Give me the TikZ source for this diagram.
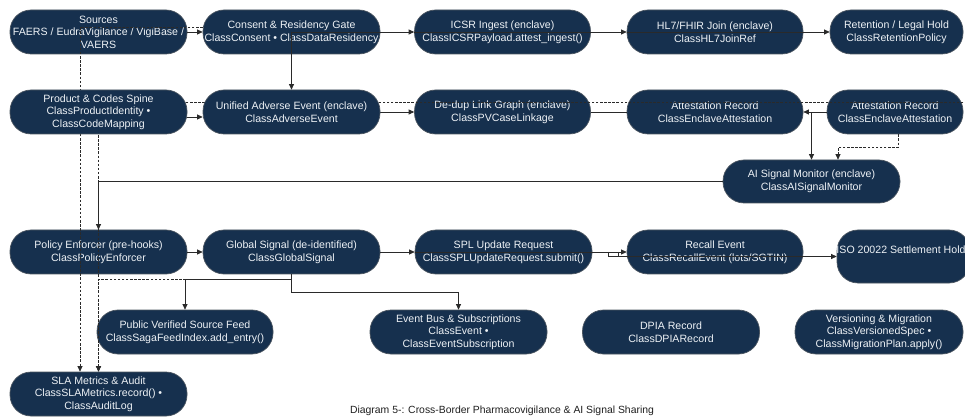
\documentclass[tikz,border=0pt]{standalone}
\usepackage{fontspec}
\setmainfont{Liberation Sans}
\usetikzlibrary{arrows.meta}
\definecolor{pillfill}{HTML}{16304E}
\definecolor{pillline}{HTML}{4B5560}
\definecolor{pilltext}{HTML}{EEF2F6}
\definecolor{wire}{HTML}{2A2A2A}
\pgfdeclarelayer{front}
\pgfsetlayers{main,front}

\begin{document}
\begin{tikzpicture}[x=1pt,y=-1pt,
  pill/.style={draw=pillline, line width=0.7pt, fill=pillfill, text=pilltext,
    rounded corners=21pt, minimum height=44pt, minimum width=177pt,
    inner sep=0pt, align=center, font=\fontsize{10.6}{12.6}\selectfont},
  link/.style={draw=wire, line width=0.75pt, -{Triangle[length=5.5pt,width=5pt]}},
  plain/.style={draw=wire, line width=0.75pt},
  dashlink/.style={link, dash pattern=on 2.5pt off 1.6pt},
]
\fill[white] (0,0) rectangle (965,419);
\useasboundingbox (0,0) rectangle (965,419);

% row 1
\node[pill] (src) at (98.5,32) {Sources\\FAERS / EudraVigilance / VigiBase /\\VAERS};
\node[pill] (consent) at (291.5,32) {Consent \& Residency Gate\\ClassConsent • ClassDataResidency};
\node[pill, minimum width=176pt] (icsr) at (502.5,32) {ICSR Ingest (enclave)\\ClassICSRPayload.attest\_ingest()};
\node[pill, minimum width=176pt] (hl7) at (715,32) {HL7/FHIR Join (enclave)\\ClassHL7JoinRef};
\node[pill, minimum width=133pt] (ret) at (896.5,32) {Retention / Legal Hold\\ClassRetentionPolicy};

% row 2 (spine, unified event and audit sink sit above the wiring)
\begin{pgfonlayer}{front}
\node[pill] (prod) at (98.5,112) {Product \& Codes Spine\\ClassProductIdentity •\\ClassCodeMapping};
\node[pill] (unified) at (291.5,112) {Unified Adverse Event (enclave)\\ClassAdverseEvent};
\node[pill] (sla) at (98.5,394) {SLA Metrics \& Audit\\ClassSLAMetrics.record() •\\ClassAuditLog};
\end{pgfonlayer}
\node[pill, minimum width=176pt] (dedup) at (502.5,112) {De-dup Link Graph (enclave)\\ClassPVCaseLinkage};
\node[pill, minimum width=176pt] (att1) at (715,112) {Attestation Record\\ClassEnclaveAttestation};
\node[pill, minimum width=136pt] (att2) at (895,112) {Attestation Record\\ClassEnclaveAttestation};

\node[pill, minimum height=43pt] (ai) at (811.5,181.5) {AI Signal Monitor (enclave)\\ClassAISignalMonitor};

% row 3
\node[pill] (policy) at (98.5,252) {Policy Enforcer (pre-hooks)\\ClassPolicyEnforcer};
\node[pill] (global) at (291.5,252) {Global Signal (de-identified)\\ClassGlobalSignal};
\node[pill] (spl) at (503.5,252) {SPL Update Request\\ClassSPLUpdateRequest.submit()};
\node[pill, minimum width=176pt] (recall) at (715,252) {Recall Event\\ClassRecallEvent (lots/SGTIN)};
\node[pill, minimum width=133pt, minimum height=53pt] (iso) at (903.5,256.5) {};
\node[text=pilltext, font=\fontsize{10.6}{12.6}\selectfont, inner sep=0pt] (isotext) at (901,250) {ISO 20022 Settlement Hold};

% row 4
\node[pill, minimum width=176pt] (feed) at (185,332) {Public Verified Source Feed\\ClassSagaFeedIndex.add\_entry()};
\node[pill] (bus) at (458.5,332) {Event Bus \& Subscriptions\\ClassEvent •\\ClassEventSubscription};
\node[pill] (dpia) at (671,332) {DPIA Record\\ClassDPIARecord};
\node[pill, minimum width=168pt] (ver) at (879,332) {Versioning \& Migration\\ClassVersionedSpec •\\ClassMigrationPlan.apply()};

\node[text=black!88, font=\fontsize{10.4}{12}\selectfont, inner sep=0pt] (caption) at (502,411)
  {Diagram 5-: Cross-Border Pharmacovigilance \& AI Signal Sharing};

% dashed audit and monitoring feeds
\draw[dashlink] ([yshift=5pt]consent.west) -| ([xshift=-18.5pt]sla.north);
\draw[dashlink] ([yshift=10pt]att2.east) -| (sla.north);
\draw[dashlink] (global.south) -- ++(0,5) -| (sla.north);
\draw[dashlink] ([xshift=3pt]att2.south) -- ++(0,13) -| ([xshift=26.5pt]ai.north);

% main flow
\draw[link] (src.east) -- (consent.west);
\draw[link] (consent.center) -- (icsr.west);
\draw[link] (consent.center) -- (unified.north);
\draw[link] (icsr.west) -- (hl7.west);
\draw[link] (hl7.west) -- (ret.west);

\draw[link] ([yshift=-5pt]prod.east) -- ([yshift=-5pt]unified.west);
\draw[link] (unified.east) -- (dedup.west);
\draw[plain] (dedup.east) -- (att1.west);
\draw[link] (att2.west) -- (att1.east);
\draw[link] (att2.west) -| (ai.north);
\draw[link] (ai.west) -| (policy.north);

\draw[link] (policy.east) -- (global.west);
\draw[link] (global.east) -- (spl.west);
\draw[link] (spl.west) -- (recall.west);
\coordinate (jog) at (608,252);
\draw[link] (jog) |- (iso.west);
\draw[plain] ([xshift=10pt]jog) -- ++(0,4.5);

\draw[link] (global.south) -- ++(0,5) -| (feed.north);
\draw[link] (global.south) -- ++(0,18) -| (bus.north);
\end{tikzpicture}
\end{document}
